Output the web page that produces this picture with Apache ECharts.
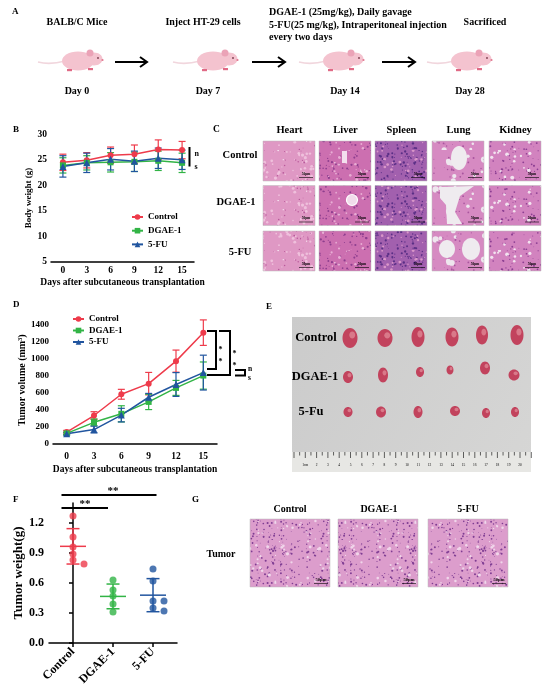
<!DOCTYPE html>
<html>
<head>
<meta charset="utf-8">
<script src="https://cdn.jsdelivr.net/npm/echarts@6.0.0/dist/echarts.min.js"></script>
<style>
  html, body { margin: 0; padding: 0; background: #fff; }
  #main { width: 550px; height: 698px; }
</style>
</head>
<body>
<div id="main"></div>
<script>
// ---- data ----
const days = ['0', '3', '6', '9', '12', '15'];
const groups = ['Control', 'DGAE-1', '5-FU'];

// B: body weight (g), mean and error
const bwControl = [24.5, 24.9, 25.9, 26.1, 27.0, 26.9];
const bwControlErr = [1.6, 1.5, 1.6, 1.8, 1.9, 1.7];
const bwDgae = [23.9, 24.4, 24.5, 24.6, 24.8, 24.4];
const bwDgaeErr = [1.5, 1.4, 1.9, 1.9, 1.9, 1.9];
const bwFu = [23.7, 24.4, 25.1, 24.7, 25.3, 25.0];
const bwFuErr = [2.1, 1.9, 2.1, 2.0, 2.0, 1.9];
const bwTicks = [5, 10, 15, 20, 25, 30];

// D: tumor volume (mm3), mean and error
const tvControl = [140, 335, 585, 710, 975, 1310];
const tvControlErr = [20, 45, 58, 132, 130, 150];
const tvDgae = [125, 255, 355, 495, 660, 805];
const tvDgaeErr = [15, 40, 95, 90, 88, 160];
const tvFu = [120, 170, 340, 550, 700, 840];
const tvFuErr = [15, 40, 80, 45, 140, 205];
const tvTicks = [0, 200, 400, 600, 800, 1000, 1200, 1400];

// F: tumor weight (g), individual mice
const twControl = [1.27, 1.06, 0.96, 0.89, 0.83, 0.79];
const twDgae = [0.63, 0.53, 0.47, 0.39, 0.31];
const twFu = [0.74, 0.62, 0.42, 0.42, 0.35, 0.32];
const twTicks = [0, 0.3, 0.6, 0.9, 1.2];

const FONT = '"Liberation Serif", "Times New Roman", serif';
const RED = '#ee3b4b', GREEN = '#32b446', BLUE = '#21559f';
const groupColors = [RED, GREEN, BLUE];

function mean(a) { return a.reduce((s, v) => s + v, 0) / a.length; }
function sd(a) {
  const m = mean(a);
  return Math.sqrt(a.reduce((s, v) => s + (v - m) * (v - m), 0) / (a.length - 1));
}

// spread dots sideways when they would overlap (column scatter)
function swarm(values, idx) {
  const pxPerVal = 100, slotPx = 11, minPx = 5.5, slot = 0.275;
  const placed = [], out = [];
  values.slice().sort((a, b) => b - a).forEach(v => {
    for (const s of [0, 1, -1, 2, -2]) {
      const ok = placed.every(p => Math.hypot((p.s - s) * slotPx, (p.v - v) * pxPerVal) >= minPx);
      if (ok) { placed.push({ v, s }); out.push([idx + s * slot, v]); break; }
    }
  });
  return out;
}

function errBars(name, means, errs, color, axis) {
  return {
    type: 'custom', name: name, xAxisIndex: axis, yAxisIndex: axis, z: 2, silent: true,
    data: means.map((m, i) => [i, m, errs[i]]),
    renderItem: (p, api) => {
      const i = api.value(0), m = api.value(1), e = api.value(2);
      const t = api.coord([i, m + e]), b = api.coord([i, m - e]);
      const w = 3.5, st = { stroke: color, lineWidth: 1.2 };
      return { type: 'group', children: [
        { type: 'line', shape: { x1: t[0], y1: t[1], x2: b[0], y2: b[1] }, style: st },
        { type: 'line', shape: { x1: t[0] - w, y1: t[1], x2: t[0] + w, y2: t[1] }, style: st },
        { type: 'line', shape: { x1: b[0] - w, y1: b[1], x2: b[0] + w, y2: b[1] }, style: st }
      ] };
    }
  };
}

function lineSeries(name, data, color, symbol, axis) {
  return {
    type: 'line', name: name, xAxisIndex: axis, yAxisIndex: axis, z: 3,
    data: data, symbol: symbol, symbolSize: symbol === 'triangle' ? 7 : 6,
    itemStyle: { color: color }, lineStyle: { color: color, width: 1.5 }
  };
}

// ---- decoration helpers (panel art, labels) ----
function txt(x, y, s, size, align, extra) {
  return { type: 'text', x: x, y: y, silent: true,
    style: Object.assign({ text: s, fontSize: size, fontWeight: 'bold', fontFamily: FONT,
      fill: '#000', textAlign: align || 'left', textVerticalAlign: 'middle' }, extra || {}) };
}
function ln(x1, y1, x2, y2, w) {
  return { type: 'line', silent: true, shape: { x1, y1, x2, y2 }, style: { stroke: '#000', lineWidth: w || 1.5 } };
}
function poly(points, w) {
  return { type: 'polyline', silent: true, shape: { points: points }, style: { stroke: '#000', lineWidth: w || 1.5, fill: null } };
}
function arrow(x1, x2, y) {
  return [ln(x1, y, x2 - 1, y, 2), poly([[x2 - 7, y - 5], [x2, y], [x2 - 7, y + 5]], 2)];
}
function mouse(x0, cy) {
  const pink = '#f4c3cf';
  return [
    { type: 'bezierCurve', silent: true, shape: { x1: x0 - 24, y1: cy + 1, cpx1: x0 - 12, cpy1: cy + 4, x2: x0 + 3, y2: cy },
      style: { stroke: '#f1d6dd', lineWidth: 1.8, fill: null } },
    { type: 'ellipse', silent: true, shape: { cx: x0 + 16, cy: cy, rx: 16, ry: 9.5 }, style: { fill: pink } },
    { type: 'ellipse', silent: true, shape: { cx: x0 + 32, cy: cy - 2, rx: 8.5, ry: 6.5 }, style: { fill: pink } },
    { type: 'circle', silent: true, shape: { cx: x0 + 28, cy: cy - 8, r: 3.5 }, style: { fill: '#eba3b7' } },
    { type: 'circle', silent: true, shape: { cx: x0 + 36, cy: cy - 3, r: 0.9 }, style: { fill: '#7a3b4c' } },
    { type: 'circle', silent: true, shape: { cx: x0 + 40.5, cy: cy - 1, r: 1.1 }, style: { fill: '#e07890' } },
    { type: 'rect', silent: true, shape: { x: x0 + 5, y: cy + 8, width: 5, height: 2.2 }, style: { fill: '#e06a86' } },
    { type: 'rect', silent: true, shape: { x: x0 + 26, y: cy + 7, width: 5, height: 2.2 }, style: { fill: '#e06a86' } }
  ];
}
function texture(w, h, base, dots, seed) {
  const c = document.createElement('canvas');
  c.width = w; c.height = h;
  const g = c.getContext('2d');
  g.fillStyle = base; g.fillRect(0, 0, w, h);
  let s = seed;
  const rnd = () => { s = (s * 9301 + 49297) % 233280; return s / 233280; };
  dots.forEach(d => {
    g.fillStyle = d[0];
    for (let i = 0; i < d[1]; i++) {
      g.beginPath();
      g.arc(rnd() * w, rnd() * h, d[2] * (0.5 + rnd()), 0, Math.PI * 2);
      g.fill();
    }
  });
  return { image: c, repeat: 'repeat' };
}
function histo(x, y, w, h, fill, barSize) {
  return [
    { type: 'rect', silent: true, shape: { x, y, width: w, height: h }, style: { fill: fill, stroke: '#bbb', lineWidth: 0.5 } },
    txt(x + w - 9, y + h - 7, '50μm', barSize, 'center'),
    ln(x + w - 16, y + h - 3.5, x + w - 2, y + h - 3.5, 0.6)
  ];
}

const tissues = {
  heart: texture(60, 50, '#df98c4', [['#efc0dc', 60, 1.1], ['#b95a9c', 40, 0.6], ['#f8e8f2', 6, 0.6]], 11),
  liver: texture(60, 50, '#cc6fb0', [['#8e3f8f', 90, 0.8], ['#e8aed4', 35, 1], ['#f6e6f1', 6, 0.6]], 23),
  spleen: texture(60, 50, '#a260ae', [['#5a2f86', 150, 0.8], ['#d996c8', 40, 1]], 37),
  lung: texture(60, 50, '#d68ac2', [['#eee6ee', 18, 2.2], ['#a9559f', 50, 0.7]], 41),
  kidney: texture(60, 50, '#d283bf', [['#f2e2ef', 22, 1.3], ['#8d3f93', 80, 0.7]], 53),
  tumor: texture(70, 60, '#dc9dcc', [['#7f3d93', 170, 0.7], ['#f0d6ea', 45, 1.1]], 67)
};

const graphic = [];
const add = a => { Array.isArray(a) ? graphic.push(...a) : graphic.push(a); };

// panel A
add(txt(12, 12, 'A', 9));
add(txt(77, 22, 'BALB/C Mice', 10, 'center'));
add(txt(203, 22, 'Inject HT-29 cells', 10, 'center'));
add(txt(269, 12, 'DGAE-1 (25mg/kg), Daily gavage', 10));
add(txt(269, 25, '5-FU(25 mg/kg), Intraperitoneal injection', 10));
add(txt(269, 37.5, 'every two days', 10));
add(txt(485, 22, 'Sacrificed', 10, 'center'));
[62, 197, 323, 451].forEach(x => add(mouse(x, 61)));
add(arrow(115, 147, 62));
add(arrow(252, 285, 62));
add(arrow(382, 415, 62));
add(txt(77, 91, 'Day 0', 10, 'center'));
add(txt(208, 91, 'Day 7', 10, 'center'));
add(txt(345, 91, 'Day 14', 10, 'center'));
add(txt(470, 91, 'Day 28', 10, 'center'));

// panel letters
add(txt(13, 130, 'B', 9));
add(txt(213, 130, 'C', 9.5));
add(txt(13, 305, 'D', 9));
add(txt(266, 307, 'E', 9));
add(txt(13, 500, 'F', 9));
add(txt(192, 500, 'G', 9));

// B significance
add(ln(189.5, 147, 189.5, 166.5, 2));
add(txt(194.5, 154, 'n', 8));
add(txt(194.5, 167, 's', 8));

// D significance brackets
add(poly([[207, 331], [216, 331], [216, 369], [207, 369]], 2));
add(poly([[219, 331], [230, 331], [230, 375], [207, 375]], 2));
add(poly([[235, 370], [245, 370], [245, 375.5], [235, 375.5]], 2));
add(txt(220.5, 350, '*', 8, 'center'));
add(txt(220.5, 362, '*', 8, 'center'));
add(txt(234.5, 353.5, '*', 8, 'center'));
add(txt(234.5, 365.5, '*', 8, 'center'));
add(txt(248, 369, 'n', 7.5));
add(txt(248, 378.5, 's', 7.5));

// C histology grid
const cCols = [263, 319, 375, 432, 489];
const cRows = [141, 185.5, 231];
const cNames = ['Heart', 'Liver', 'Spleen', 'Lung', 'Kidney'];
const cKeys = ['heart', 'liver', 'spleen', 'lung', 'kidney'];
cNames.forEach((n, j) => add(txt(cCols[j] + 26.5, 130, n, 10.5, 'center')));
add(txt(240, 155, 'Control', 10.5, 'center'));
add(txt(236, 202, 'DGAE-1', 10.5, 'center'));
add(txt(240, 252, '5-FU', 10.5, 'center'));
cRows.forEach(y => cCols.forEach((x, j) => add(histo(x, y, 52, 40, tissues[cKeys[j]], 3.5))));
const lumen = { fill: '#efebef' };
add({ type: 'ellipse', silent: true, shape: { cx: 459, cy: 158, rx: 8, ry: 12 }, style: lumen });
add({ type: 'polygon', silent: true, shape: { points: [[440, 187], [474, 186], [460, 196], [455, 212], [462, 224], [447, 224], [446, 205], [440, 198]] }, style: lumen });
add({ type: 'ellipse', silent: true, shape: { cx: 447, cy: 249, rx: 8, ry: 9 }, style: lumen });
add({ type: 'ellipse', silent: true, shape: { cx: 471, cy: 249, rx: 9, ry: 11 }, style: lumen });
add({ type: 'circle', silent: true, shape: { cx: 352, cy: 200, r: 5.5 }, style: { fill: '#f1dceb', stroke: '#fff', lineWidth: 1.2 } });
add({ type: 'rect', silent: true, shape: { x: 342, y: 151, width: 5, height: 12 }, style: { fill: '#f3dfee' } });

// E tumor photo
add({ type: 'rect', silent: true, shape: { x: 292, y: 317, width: 239, height: 155 },
  style: { fill: new echarts.graphic.LinearGradient(0, 0, 1, 1, [{ offset: 0, color: '#cbcbcb' }, { offset: 1, color: '#d6d6d5' }]) } });
add({ type: 'rect', silent: true, shape: { x: 292, y: 452, width: 239, height: 20 }, style: { fill: '#e7e7e4' } });
for (let k = 0; k <= 42; k++) {
  const x = 294 + k * 5.65;
  add(ln(x, 452, x, k % 2 === 0 ? 458 : 455.5, 0.6));
  if (k % 2 === 0 && k > 0 && k < 42) add(txt(x, 465, k === 2 ? '1cm' : String(k / 2), 3.5, 'center', { fontWeight: 'normal' }));
}
add(txt(316, 338, 'Control', 12.5, 'center'));
add(txt(315, 377, 'DGAE-1', 12.5, 'center'));
add(txt(311, 412, '5-Fu', 12.5, 'center'));
const tumorFill = '#c2435d', tumorLight = '#e2909c';
[[350, 338, 7.5, 10], [385, 338, 7.5, 9], [418, 337, 6.5, 10], [452, 337, 6.5, 9.5], [482, 335, 6, 9.5], [517, 335, 6.5, 10],
 [348, 377, 5, 6], [383, 375, 5, 7.5], [420, 372, 4, 5], [450, 370, 3.5, 4.5], [485, 368, 5, 6.5], [514, 375, 5.5, 5.5],
 [348, 412, 4.5, 5], [381, 412, 5, 5.5], [418, 412, 4.5, 6], [455, 411, 5, 5], [486, 413, 4, 5], [515, 412, 4, 5]
].forEach(t => {
  add({ type: 'ellipse', silent: true, shape: { cx: t[0], cy: t[1], rx: t[2], ry: t[3] }, style: { fill: tumorFill } });
  add({ type: 'ellipse', silent: true, shape: { cx: t[0] + t[2] * 0.3, cy: t[1] - t[3] * 0.3, rx: t[2] * 0.4, ry: t[3] * 0.35 }, style: { fill: tumorLight, opacity: 0.7 } });
});

// F significance
add(ln(61.5, 495, 156.5, 495, 2));
add(txt(113, 491, '**', 11, 'center'));
add(ln(61.5, 508, 108, 508, 2));
add(txt(85, 504.5, '**', 11, 'center'));

// G tumor histology
add(txt(221, 554, 'Tumor', 10, 'center'));
[[250, 'Control', 290], [338, 'DGAE-1', 379], [428, '5-FU', 468]].forEach(g => {
  add(txt(g[2], 509, g[1], 10, 'center'));
  add(histo(g[0], 519, 80, 68, tissues.tumor, 4.5));
});

// ---- chart option ----
const axisCommon = {
  axisLine: { lineStyle: { color: '#000', width: 1.5 } },
  axisTick: { length: 3, lineStyle: { color: '#000', width: 1.5 } },
  splitLine: { show: false },
  axisLabel: { color: '#000', fontFamily: FONT, fontWeight: 'bold', fontSize: 9.5, margin: 4 },
  nameTextStyle: { color: '#000', fontFamily: FONT, fontWeight: 'bold', fontSize: 9.5 }
};
const ax = extra => echarts.util.merge(echarts.util.clone(axisCommon), extra, true);

const legendCommon = {
  orient: 'vertical', itemWidth: 11, itemHeight: 7, padding: 0,
  textStyle: { color: '#000', fontFamily: FONT, fontWeight: 'bold', fontSize: 9, lineHeight: 10 },
  data: groups, selectedMode: false
};

const fControl = swarm(twControl, 0), fDgae = swarm(twDgae, 1), fFu = swarm(twFu, 2);
const fStats = [twControl, twDgae, twFu].map((a, i) => [i, mean(a), sd(a)]);

const option = {
  animation: false,
  backgroundColor: '#fff',
  grid: [
    { left: 51, top: 134.3, width: 143, height: 127.4, outerBoundsMode: 'none' },
    { left: 53, top: 316.5, width: 164, height: 127.5, outerBoundsMode: 'none' },
    { left: 49, top: 503, width: 128, height: 140, outerBoundsMode: 'none' }
  ],
  legend: [
    Object.assign({ left: 131, top: 212, itemGap: 3.7 }, legendCommon),
    Object.assign({ left: 72, top: 314, itemGap: 1.5 }, legendCommon)
  ],
  xAxis: [
    ax({ type: 'category', gridIndex: 0, data: days, boundaryGap: true,
      axisTick: { alignWithLabel: true }, axisLabel: { interval: 0 },
      name: 'Days after subcutaneous transplantation', nameLocation: 'middle', nameGap: 16 }),
    ax({ type: 'category', gridIndex: 1, data: days, boundaryGap: true,
      axisTick: { alignWithLabel: true }, axisLabel: { interval: 0, margin: 8 },
      name: 'Days after subcutaneous transplantation', nameLocation: 'middle', nameGap: 21 }),
    ax({ type: 'value', gridIndex: 2, min: -0.6, max: 2.6,
      axisTick: { length: 4, customValues: [0, 1, 2] },
      axisLabel: { customValues: [0, 1, 2], formatter: v => groups[Math.round(v)], rotate: 45, fontSize: 12, margin: 7 } })
  ],
  yAxis: [
    ax({ type: 'value', gridIndex: 0, min: 5, max: 30, interval: 5,
      axisLabel: { customValues: bwTicks },
      name: 'Body weight (g)', nameLocation: 'middle', nameGap: 17, nameTextStyle: { fontSize: 9 } }),
    ax({ type: 'value', gridIndex: 1, min: 0, max: 1500,
      axisTick: { customValues: tvTicks }, axisLabel: { customValues: tvTicks, fontSize: 9, formatter: v => String(v) },
      name: 'Tumor volume (mm³)', nameLocation: 'middle', nameGap: 25, nameTextStyle: { fontSize: 10 } }),
    ax({ type: 'value', gridIndex: 2, min: 0, max: 1.4,
      axisTick: { length: 4, customValues: twTicks },
      axisLabel: { customValues: twTicks, formatter: v => v.toFixed(1), fontSize: 12, margin: 5 },
      name: 'Tumor weight(g)', nameLocation: 'middle', nameGap: 22, nameTextStyle: { fontSize: 13 } })
  ],
  series: [
    errBars('bw-c', bwControl, bwControlErr, RED, 0),
    errBars('bw-d', bwDgae, bwDgaeErr, GREEN, 0),
    errBars('bw-f', bwFu, bwFuErr, BLUE, 0),
    lineSeries('Control', bwControl, RED, 'circle', 0),
    lineSeries('DGAE-1', bwDgae, GREEN, 'rect', 0),
    lineSeries('5-FU', bwFu, BLUE, 'triangle', 0),
    errBars('tv-c', tvControl, tvControlErr, RED, 1),
    errBars('tv-d', tvDgae, tvDgaeErr, GREEN, 1),
    errBars('tv-f', tvFu, tvFuErr, BLUE, 1),
    lineSeries('Control', tvControl, RED, 'circle', 1),
    lineSeries('DGAE-1', tvDgae, GREEN, 'rect', 1),
    lineSeries('5-FU', tvFu, BLUE, 'triangle', 1),
    { type: 'scatter', name: 'tw-c', xAxisIndex: 2, yAxisIndex: 2, data: fControl, symbolSize: 7, itemStyle: { color: RED }, z: 3 },
    { type: 'scatter', name: 'tw-d', xAxisIndex: 2, yAxisIndex: 2, data: fDgae, symbolSize: 7, itemStyle: { color: GREEN }, z: 3 },
    { type: 'scatter', name: 'tw-f', xAxisIndex: 2, yAxisIndex: 2, data: fFu, symbolSize: 7, itemStyle: { color: BLUE }, z: 3 },
    {
      type: 'custom', name: 'tw-stats', xAxisIndex: 2, yAxisIndex: 2, z: 4, silent: true, data: fStats,
      renderItem: (p, api) => {
        const i = api.value(0), m = api.value(1), s = api.value(2);
        const c = api.coord([i, m]), t = api.coord([i, m + s]), b = api.coord([i, m - s]);
        const st = { stroke: groupColors[i], lineWidth: 1.5 };
        return { type: 'group', children: [
          { type: 'line', shape: { x1: c[0] - 13, y1: c[1], x2: c[0] + 13, y2: c[1] }, style: st },
          { type: 'line', shape: { x1: t[0], y1: t[1], x2: b[0], y2: b[1] }, style: st },
          { type: 'line', shape: { x1: t[0] - 6.5, y1: t[1], x2: t[0] + 6.5, y2: t[1] }, style: st },
          { type: 'line', shape: { x1: b[0] - 6.5, y1: b[1], x2: b[0] + 6.5, y2: b[1] }, style: st }
        ] };
      }
    }
  ],
  graphic: graphic
};

const chart = echarts.init(document.getElementById('main'));
chart.setOption(option);
</script>
</body>
</html>
